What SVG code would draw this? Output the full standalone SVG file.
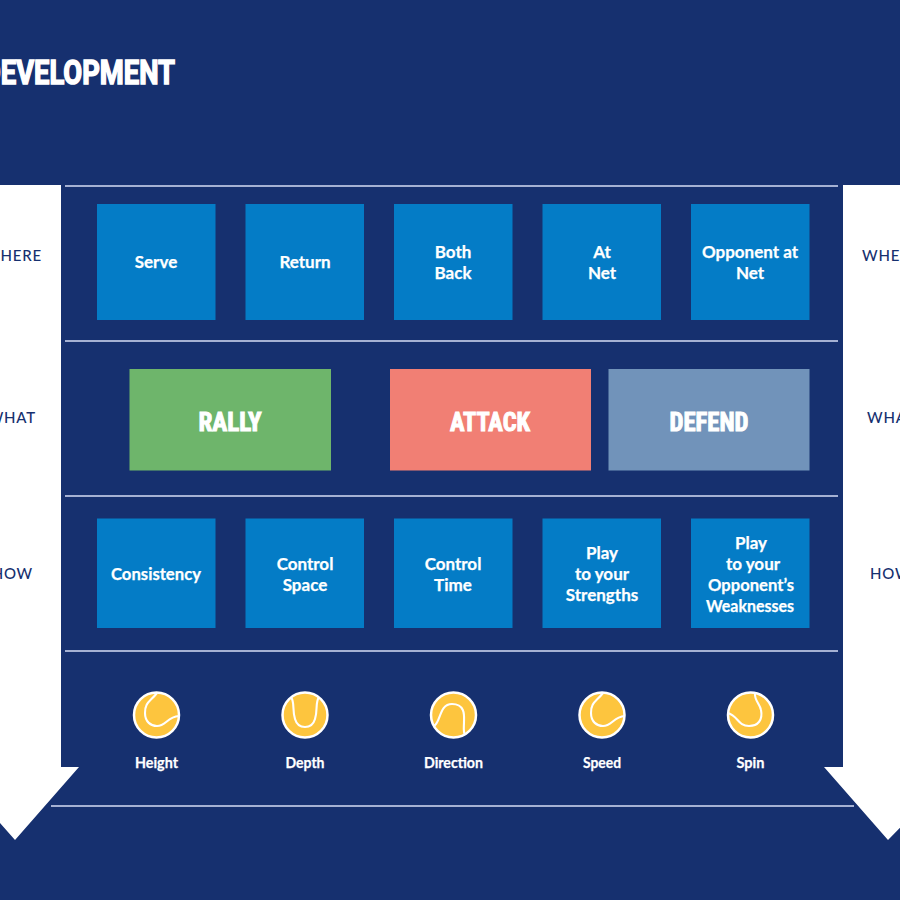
<svg xmlns="http://www.w3.org/2000/svg" width="900" height="900" viewBox="0 0 900 900">
<style>
.b{fill:#047cc6}
.t{font-family:Lato,"Noto Sans",sans-serif;font-weight:700;font-size:17px;fill:#fff;stroke:#fff;stroke-width:.25;text-anchor:middle}
.s{font-size:15px}
.h{font-family:"Liberation Sans Narrow","Roboto Condensed",Roboto,sans-serif;font-weight:700;font-size:26px;fill:#fff;stroke:#fff;stroke-width:1;text-anchor:middle}
.l{font-family:Lato,"Noto Sans",sans-serif;font-weight:500;font-size:15px;letter-spacing:.8px;fill:#16306f}
.r{stroke:#d5dcf5;stroke-width:1.5}
.ball{fill:#fdc53e;stroke:#fff;stroke-width:2.5}
.seam{fill:none;stroke:#fff;stroke-width:2.1}
.ar{fill:#fff}
</style>
<rect width="900" height="900" fill="#16306f"/>
<text id="title" x="175" y="84" text-anchor="end" font-family="Liberation Sans Narrow,Roboto,sans-serif" font-weight="700" font-size="33" fill="#fff" stroke="#fff" stroke-width="1.5" textLength="192" lengthAdjust="spacingAndGlyphs">DEVELOPMENT</text>
<g id="connectors">
<path class="r" d="M65 186H838M65 341H838M65 496H838M65 651H838M51 806H854"/>
<path id="arrow-left" class="ar" d="M-40 185H61V767H79L15 840L-49 767H-40Z"/>
<path id="arrow-right" class="ar" d="M843 185H940V767H960L888 840L824 767H843Z"/>
</g>
<g id="labels-left">
<text class="l" x="42" y="261" text-anchor="end">WHERE</text>
<text class="l" x="36" y="423" text-anchor="end">WHAT</text>
<text class="l" x="33" y="579" text-anchor="end">HOW</text>
</g>
<g id="labels-right">
<text class="l" x="862" y="261">WHERE</text>
<text class="l" x="867" y="423">WHAT</text>
<text class="l" x="870" y="579">HOW</text>
</g>
<g id="serve"><rect class="b" x="97" y="204" width="118.500" height="116"/><text class="t" x="156" y="268">Serve</text></g>
<g id="return"><rect class="b" x="245.500" y="204" width="118.500" height="116"/><text class="t" x="305" y="268">Return</text></g>
<g id="both-back"><rect class="b" x="394" y="204" width="118.500" height="116"/><text class="t" x="453" y="258">Both</text><text class="t" x="453" y="279">Back</text></g>
<g id="at-net"><rect class="b" x="542.500" y="204" width="118.500" height="116"/><text class="t" x="602" y="258">At</text><text class="t" x="602" y="279">Net</text></g>
<g id="opponent-at-net"><rect class="b" x="691" y="204" width="118.500" height="116"/><text class="t" x="750" y="258">Opponent at</text><text class="t" x="750" y="279">Net</text></g>
<g id="rally"><rect x="129.500" y="369" width="201.500" height="101.500" fill="#6eb56b"/><text class="h" x="230" y="431" textLength="63" lengthAdjust="spacingAndGlyphs">RALLY</text></g>
<g id="attack"><rect x="390" y="369" width="201" height="101.500" fill="#f17f74"/><text class="h" x="490" y="431" textLength="80" lengthAdjust="spacingAndGlyphs">ATTACK</text></g>
<g id="defend"><rect x="608.500" y="369" width="201" height="101.500" fill="#7193ba"/><text class="h" x="709" y="431" textLength="79" lengthAdjust="spacingAndGlyphs">DEFEND</text></g>
<g id="consistency"><rect class="b" x="97" y="518.500" width="118.500" height="109.500"/><text class="t" x="156" y="580" textLength="90" lengthAdjust="spacingAndGlyphs">Consistency</text></g>
<g id="control-space"><rect class="b" x="245.500" y="518.500" width="118.500" height="109.500"/><text class="t" x="305" y="570">Control</text><text class="t" x="305" y="591">Space</text></g>
<g id="control-time"><rect class="b" x="394" y="518.500" width="118.500" height="109.500"/><text class="t" x="453" y="570">Control</text><text class="t" x="453" y="591">Time</text></g>
<g id="strengths"><rect class="b" x="542.500" y="518.500" width="118.500" height="109.500"/><text class="t" x="602" y="559">Play</text><text class="t" x="602" y="580">to your</text><text class="t" x="602" y="601">Strengths</text></g>
<g id="weaknesses"><rect class="b" x="691" y="518.500" width="118.500" height="109.500"/><text class="t" x="751" y="549">Play</text><text class="t" x="753" y="570">to your</text><text class="t" x="751" y="591" textLength="86" lengthAdjust="spacingAndGlyphs">Opponent’s</text><text class="t" x="750" y="612" textLength="88" lengthAdjust="spacingAndGlyphs">Weaknesses</text></g>
<g id="height"><circle class="ball" cx="156.500" cy="715" r="22.500"/><path class="seam" d="M157 693C150 702 145 702 145 713C145 722 151 726 157 726C166 726 167 717 179 716"/><text class="t s" x="156.500" y="768" textLength="43" lengthAdjust="spacingAndGlyphs">Height</text></g>
<g id="depth"><circle class="ball" cx="305" cy="715" r="22.500"/><path class="seam" d="M291 697C295 703 292 709 295 719C297 726 301 727 305 727C309 727 313 726 315 719C318 709 315 703 319 697"/><text class="t s" x="305" y="768" textLength="39" lengthAdjust="spacingAndGlyphs">Depth</text></g>
<g id="direction"><circle class="ball" cx="453.500" cy="715" r="22.500"/><path class="seam" d="M434 726C441 722 439 704 452 704C466 704 464 717 464 722C464 727 463 731 465 735"/><text class="t s" x="453.500" y="768" textLength="59" lengthAdjust="spacingAndGlyphs">Direction</text></g>
<g id="speed"><circle class="ball" cx="602" cy="715" r="22.500"/><path class="seam" d="M603 693C596 702 591 702 591 713C591 722 597 726 603 726C612 726 613 717 625 716"/><text class="t s" x="602" y="768" textLength="38" lengthAdjust="spacingAndGlyphs">Speed</text></g>
<g id="spin"><circle class="ball" cx="750.500" cy="715" r="22.500"/><path class="seam" d="M728 713C738 716 738 726 749 726C758 726 763 720 761 710C760 704 754 700 755 693"/><text class="t s" x="750.500" y="768" textLength="28" lengthAdjust="spacingAndGlyphs">Spin</text></g>
</svg>
